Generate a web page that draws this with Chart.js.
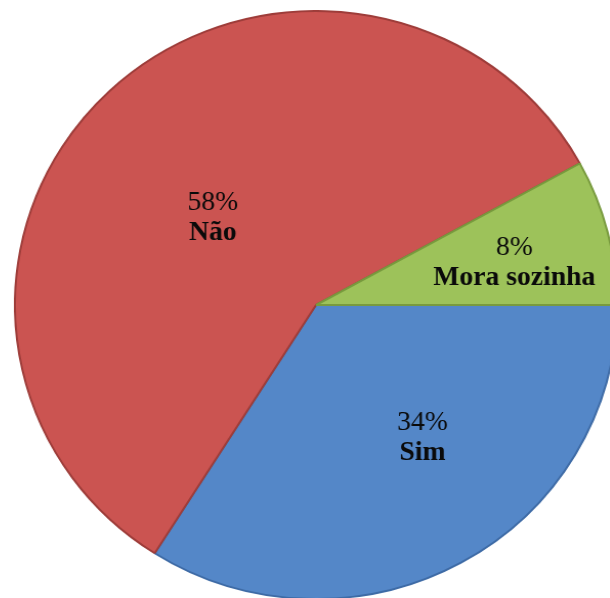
<!DOCTYPE html>
<html>
<head>
<meta charset="utf-8">
<script src="https://cdn.jsdelivr.net/npm/chart.js@4/dist/chart.umd.min.js"></script>
<style>
    html, body { margin: 0; padding: 0; background: #fff; overflow: hidden; width: 610px; height: 598px; }
    #wrap {
        position: absolute; left: 21px; top: 10px; width: 590px; height: 590px;
        transform: scaleX(1.024); transform-origin: 295px 295px;
    }
</style>
</head>
<body>
<div id="wrap"><canvas id="pieChart"></canvas></div>
<script>
// Dados (percentagens)
const labels = ['Sim', 'Não', 'Mora sozinha'];
const values = [34, 58, 8];
const COLORS = ['#5487C8', '#CB5451', '#9DC25A'];
const BORDERS = ['#3E6BA6', '#9E3D3A', '#789A3E'];

// posição dos rótulos: fração do raio e desvio do ângulo (graus)
const LABEL_POS = [[0.59, -8], [0.44, -8], [0.67, 4]];

const sliceLabels = {
    id: 'sliceLabels',
    afterDatasetsDraw(chart) {
        const ctx = chart.ctx;
        const meta = chart.getDatasetMeta(0);
        const total = values.reduce((a, b) => a + b, 0);
        meta.data.forEach((arc, i) => {
            const p = arc.getProps(['x', 'y', 'startAngle', 'endAngle', 'outerRadius'], true);
            const mid = (p.startAngle + p.endAngle) / 2 + LABEL_POS[i][1] * Math.PI / 180;
            const r = p.outerRadius * LABEL_POS[i][0];
            const x = p.x + Math.cos(mid) * r;
            const y = p.y + Math.sin(mid) * r;
            ctx.save();
            ctx.fillStyle = '#0a0a0a';
            ctx.textAlign = 'center';
            ctx.textBaseline = 'alphabetic';
            ctx.font = '27px "Liberation Serif", "Times New Roman", serif';
            ctx.fillText(Math.round(values[i] / total * 100) + '%', x, y - 14);
            ctx.font = 'bold 27px "Liberation Serif", "Times New Roman", serif';
            ctx.fillText(labels[i], x, y + 16);
            ctx.restore();
        });
    }
};

new Chart(document.getElementById('pieChart').getContext('2d'), {
    type: 'pie',
    data: {
        labels: labels,
        datasets: [{
            data: values,
            backgroundColor: COLORS,
            borderColor: BORDERS,
            borderWidth: 2,
            hoverOffset: 0
        }]
    },
    options: {
        responsive: true,
        maintainAspectRatio: false,
        animation: false,
        rotation: 90,
        layout: { padding: 0 },
        plugins: {
            legend: { display: false },
            tooltip: { enabled: false },
            title: { display: false }
        }
    },
    plugins: [sliceLabels]
});
</script>
</body>
</html>
